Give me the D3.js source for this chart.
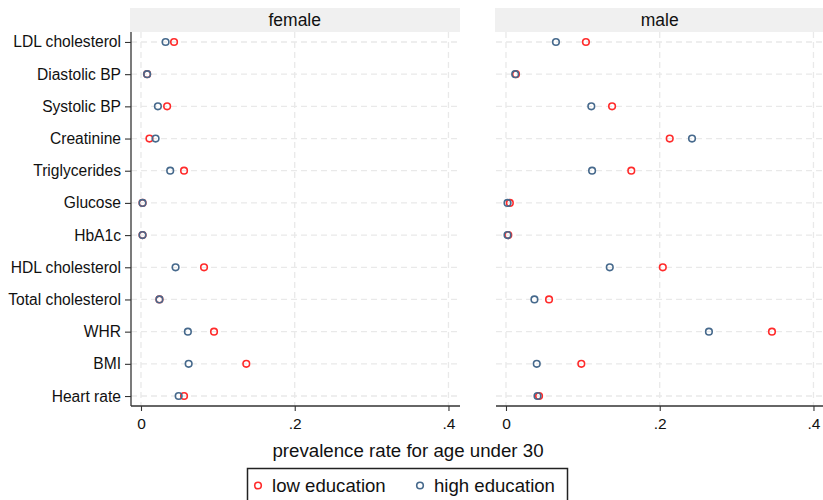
<!DOCTYPE html>
<html>
<head>
<meta charset="utf-8">
<script src="https://cdn.jsdelivr.net/npm/d3@7"></script>
<style>
  body { margin: 0; background: #fff; }
  text { font-family: "Liberation Sans", Arial, sans-serif; fill: #111; }
</style>
</head>
<body>
<div id="chart"></div>
<script>
// categories, top to bottom
const measures = ['LDL cholesterol', 'Diastolic BP', 'Systolic BP', 'Creatinine', 'Triglycerides',
  'Glucose', 'HbA1c', 'HDL cholesterol', 'Total cholesterol', 'WHR', 'BMI', 'Heart rate'];

const femaleLow  = [0.043, 0.008, 0.034, 0.011, 0.056, 0.002, 0.002, 0.082, 0.024, 0.095, 0.137, 0.056];
const femaleHigh = [0.032, 0.008, 0.022, 0.019, 0.038, 0.002, 0.002, 0.045, 0.024, 0.061, 0.062, 0.049];
const maleLow    = [0.104, 0.013, 0.138, 0.213, 0.163, 0.005, 0.003, 0.204, 0.056, 0.346, 0.098, 0.043];
const maleHigh   = [0.065, 0.012, 0.111, 0.242, 0.112, 0.002, 0.002, 0.135, 0.037, 0.264, 0.040, 0.041];

const xTicks = [0, 0.2, 0.4];
const tickLabels = ['0', '.2', '.4'];
const panels = [
  { name: 'female', low: femaleLow, high: femaleHigh },
  { name: 'male', low: maleLow, high: maleHigh }
];

const width = 823;
const height = 500;
const lowColor = '#ff2b2b';
const highColor = '#46698c';
const gridColor = '#e9e9e9';
const axisColor = '#333';

const svg = d3.select('#chart').append('svg')
  .attr('width', width)
  .attr('height', height);

const plotTop = 32, plotBottom = 406;
const panelLeft = [131, 496];
const panelWidth = 329;

const y = d3.scalePoint()
  .domain(measures)
  .range([plotTop, plotBottom])
  .padding(0.31);

panels.forEach((p, i) => {
  const x0 = panelLeft[i];
  const x = d3.scaleLinear().domain([-0.013, 0.415]).range([x0, x0 + panelWidth]);
  const g = svg.append('g');

  // header strip
  g.append('rect')
    .attr('x', x0 - 1).attr('y', 8)
    .attr('width', panelWidth + 1).attr('height', plotTop - 8)
    .attr('fill', '#f0f0f0');
  g.append('text')
    .attr('x', x(0.2)).attr('y', 26)
    .attr('text-anchor', 'middle')
    .style('font-size', '17.5px')
    .text(p.name);

  // grid
  g.selectAll('.hgrid').data(measures).enter().append('line')
    .attr('x1', x0).attr('x2', x0 + panelWidth)
    .attr('y1', d => y(d)).attr('y2', d => y(d))
    .attr('stroke', gridColor).attr('stroke-width', 1.3)
    .attr('stroke-dasharray', '6,4');
  g.selectAll('.vgrid').data(xTicks).enter().append('line')
    .attr('x1', d => x(d)).attr('x2', d => x(d))
    .attr('y1', plotTop).attr('y2', plotBottom)
    .attr('stroke', gridColor).attr('stroke-width', 1.3)
    .attr('stroke-dasharray', '6,4');

  // x axis
  const xAxis = d3.axisBottom(x)
    .tickValues(xTicks)
    .tickFormat((d, k) => tickLabels[k])
    .tickSize(5)
    .tickSizeOuter(0);
  const ax = g.append('g')
    .attr('transform', `translate(0, ${plotBottom})`)
    .call(xAxis);
  ax.select('.domain').attr('stroke', axisColor).attr('stroke-width', 1.3)
    .attr('d', `M${x0},0H${x0 + panelWidth}`);
  ax.selectAll('.tick line').attr('stroke', axisColor).attr('stroke-width', 1.1);
  ax.selectAll('.tick text')
    .attr('y', 12)
    .style('font-size', '15.5px')
    .style('font-family', '"Liberation Sans", Arial, sans-serif')
    .attr('fill', '#111');

  // y axis only on first panel
  if (i === 0) {
    const yAxis = d3.axisLeft(y).tickSize(6).tickSizeOuter(0).tickPadding(4);
    const ay = g.append('g')
      .attr('transform', `translate(${x0}, 0)`)
      .call(yAxis);
    ay.select('.domain').attr('stroke', axisColor).attr('stroke-width', 1.3)
      .attr('d', `M0,${plotTop}V${plotBottom}`);
    ay.selectAll('.tick line').attr('stroke', axisColor).attr('stroke-width', 1.1);
    ay.selectAll('.tick text')
      .style('font-size', '15.6px')
      .style('font-family', '"Liberation Sans", Arial, sans-serif')
      .attr('fill', '#111');
  }

  // markers: low first, high on top
  [[p.low, lowColor], [p.high, highColor]].forEach(([vals, col]) => {
    g.selectAll(null).data(vals).enter().append('circle')
      .attr('cx', d => x(d))
      .attr('cy', (d, k) => y(measures[k]))
      .attr('r', 3.3)
      .attr('fill', 'none')
      .attr('stroke', col)
      .attr('stroke-width', 1.6);
  });
});

// x axis title
svg.append('text')
  .attr('x', 408).attr('y', 457)
  .attr('text-anchor', 'middle')
  .style('font-size', '18.7px')
  .text('prevalence rate for age under 30');

// legend
const legend = svg.append('g');
legend.append('rect')
  .attr('x', 247.5).attr('y', 468.5)
  .attr('width', 320).attr('height', 40)
  .attr('fill', 'none')
  .attr('stroke', '#222').attr('stroke-width', 1.5);
const legendItems = [
  { label: 'low education', color: lowColor, cx: 258, tx: 272 },
  { label: 'high education', color: highColor, cx: 420, tx: 434 }
];
legendItems.forEach(it => {
  legend.append('circle')
    .attr('cx', it.cx).attr('cy', 485.5).attr('r', 3.3)
    .attr('fill', 'none').attr('stroke', it.color).attr('stroke-width', 1.6);
  legend.append('text')
    .attr('x', it.tx).attr('y', 492)
    .style('font-size', '18.6px')
    .text(it.label);
});
</script>
</body>
</html>
